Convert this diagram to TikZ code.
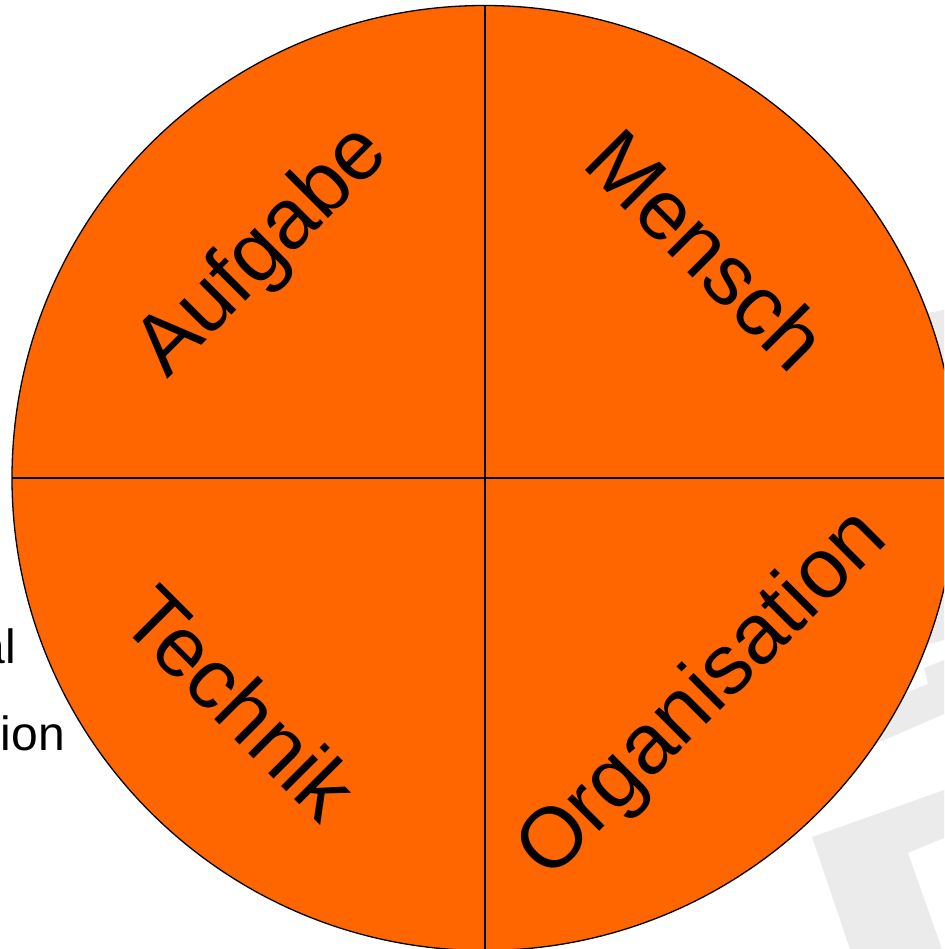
\documentclass[tikz,border=0pt]{standalone}
\usepackage{fontspec}
\setmainfont{Liberation Sans}
\definecolor{segorange}{HTML}{FF6600}
\definecolor{wmgray}{RGB}{235,235,235}
\begin{document}
\begin{tikzpicture}[x=1pt,y=-1pt,
  seglabel/.style={font=\fontsize{85}{100}\selectfont, inner sep=0pt, text=black},
  sidetext/.style={font=\fontsize{48}{58}\selectfont, inner sep=0pt, text=black, anchor=base east},
  wm/.style={fill=wmgray, draw=none},
  divider/.style={draw=black, line width=2pt}]
\useasboundingbox (0,0) rectangle (944,949);
\clip (0,0) rectangle (944,949);
% watermark fragments (behind the circle)
\fill[wm] (812,837) -- (944,790) -- (944,838) -- (908,853) -- (942,949) -- (850,949) -- cycle;
\fill[wm] (850,755) -- (944,714) -- (944,660) -- (924,668) -- (928,684) -- (850,715) -- cycle;
\fill[wm] (900,600) -- (944,588) -- (944,640) -- (900,652) -- cycle;
\fill[wm] (900,318) -- (944,310) -- (944,400) -- (900,400) -- cycle;
% side text fragments
\node[sidetext] (al) at (16,663) {al};
\node[sidetext] (ion) at (65,750) {ion};
% the circle
\coordinate (c) at (484.5,478);
\fill[segorange] (c) circle[radius=472.5pt];
\draw[divider] (484.5,5.5) -- (484.5,950.5);
\draw[divider] (12,478) -- (957,478);
\draw[black, line width=1.3pt] (c) circle[radius=472.5pt];
% labels
\node[seglabel, rotate=45, anchor=base west] (aufgabe) at (167,380) {Aufgabe};
\node[seglabel, rotate=-45, anchor=base west] (mensch) at (580,165) {Mensch};
\node[seglabel, rotate=-45, anchor=base west] (technik) at (117,622) {Technik};
\node[seglabel, rotate=45, anchor=base west] (organisation) at (549,882) {Organisation};
\end{tikzpicture}
\end{document}
